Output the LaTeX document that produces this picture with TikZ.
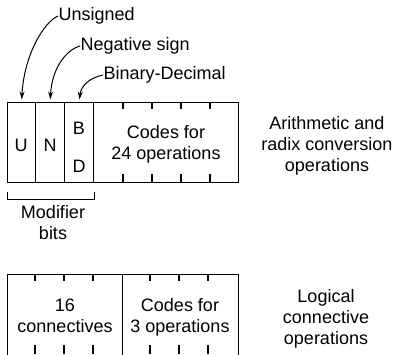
\documentclass[tikz,border=0pt]{standalone}
\usepackage{fontspec}
\setmainfont{Liberation Sans}
\usetikzlibrary{arrows.meta}
\begin{document}
\begin{tikzpicture}[x=1pt,y=-1pt,line width=1.2pt,
    cell/.style={draw,inner sep=0pt,anchor=north west,minimum height=80pt},
    txt/.style={inner sep=0pt,align=center,font=\fontsize{18}{21}\selectfont},
    tag/.style={inner sep=0pt,anchor=west,font=\fontsize{18}{21}\selectfont},
    pointer/.style={line width=1pt,shorten >=2.5pt,-{Stealth[length=8pt,width=5pt]}}]
  \useasboundingbox (0,0) rectangle (395,354);
  % upper register
  \node[cell,minimum width=28pt] (u) at (7,102) {};
  \node[cell,minimum width=29pt] (n) at (35,102) {};
  \node[cell,minimum width=29pt] (bd) at (64,102) {};
  \node[cell,minimum width=145pt] (codes) at (93,102) {};
  \node[txt] (ulbl) at (21,145) {U};
  \node[txt] (nlbl) at (50,145) {N};
  \node[txt] (blbl) at (79,128) {B};
  \node[txt] (dlbl) at (79,166) {D};
  \node[txt] (arith) at (166,144) {Codes for\\24 operations};
  \foreach \x in {123,152,181,210} {
    \draw (\x,102) -- (\x,109);
    \draw (\x,182) -- (\x,174);
  }
  % pointers
  \node[tag] (uns) at (58,16) {Unsigned};
  \node[tag] (neg) at (80,46) {Negative sign};
  \node[tag] (bin) at (103,75) {Binary-Decimal};
  \draw[pointer] (uns.west) .. controls (44,22) and (24,55) .. (u.north);
  \draw[pointer] (neg.west) .. controls (66,50) and (52,68) .. (n.north);
  \draw[pointer] (bin.west) .. controls (89,78) and (81,86) .. (bd.north);
  % modifier bracket
  \draw[line width=1pt] (7,192) |- (94,199) -- (94,192);
  \node[txt] (mod) at (53,223) {Modifier\\bits};
  \node[txt] (arithop) at (327,146) {Arithmetic and\\radix conversion\\operations};
  % lower register
  \node[cell,minimum width=115pt,minimum height=95pt] (conn) at (7,274) {};
  \node[cell,minimum width=116pt,minimum height=95pt] (logic) at (122,274) {};
  \node[txt] (connlbl) at (65,316) {16\\connectives};
  \node[txt] (logiclbl) at (180,317) {Codes for\\3 operations};
  \foreach \x in {35,64,93,150,179,208} {
    \draw (\x,274) -- (\x,281);
    \draw (\x,354) -- (\x,345);
  }
  \node[txt] (logop) at (326,319) {Logical\\connective\\operations};
\end{tikzpicture}
\end{document}
